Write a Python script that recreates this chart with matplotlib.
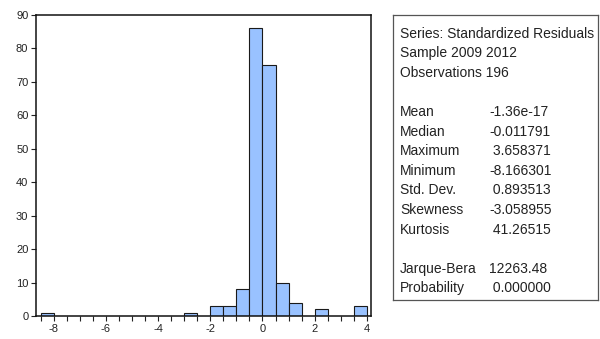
import numpy as np
import matplotlib.pyplot as plt

plt.rcParams['font.family'] = ['Liberation Sans', 'DejaVu Sans']

# histogram of standardized residuals, bins of width 0.5 from -8.5 to 4.0
bin_edges = np.arange(-8.5, 4.01, 0.5)
counts = [1, 0, 0, 0, 0, 0, 0, 0, 0, 0, 0, 1, 0,
          3, 3, 8, 86, 75, 10, 4, 0, 2, 0, 0, 3]

stat_labels = ["Mean", "Median", "Maximum", "Minimum", "Std. Dev.",
               "Skewness", "Kurtosis", "", "Jarque-Bera", "Probability"]
stat_values = ["-1.36e-17", "-0.011791", " 3.658371", "-8.166301", " 0.893513",
               "-3.058955", " 41.26515", "", "12263.48", " 0.000000"]
header = ["Series: Standardized Residuals", "Sample 2009 2012", "Observations 196", ""]

W, H = 600, 339
fig = plt.figure(figsize=(W / 100, H / 100), dpi=100)
ax = fig.add_axes([36 / W, (H - 316) / H, 335 / W, 301 / H])

left = bin_edges[:-1]
mask = np.array(counts) > 0
ax.bar(left[mask], np.array(counts)[mask], width=0.5, align='edge',
       color='#99C2FF', edgecolor='#1a1a1a', linewidth=0.8)

ax.set_xlim(-8.68, 4.16)
ax.set_ylim(0, 90)
ax.set_xticks(np.arange(-8, 4.1, 2))
ax.set_xticklabels([f"{int(v)}" for v in np.arange(-8, 4.1, 2)])
ax.set_xticks(bin_edges, minor=True)
ax.set_yticks(np.arange(0, 91, 10))
ax.tick_params(axis='both', which='both', direction='out', length=3.5, width=0.8,
               labelsize=8, pad=2, colors='#222222')
for s in ax.spines.values():
    s.set_linewidth(1.1)
    s.set_color('#111111')

# statistics box
box = fig.add_axes([393 / W, (H - 300) / H, 205 / W, 285 / H])
box.set_xticks([])
box.set_yticks([])
for s in box.spines.values():
    s.set_linewidth(0.9)
    s.set_color('#555555')

lines = [(h, "") for h in header] + list(zip(stat_labels, stat_values))
y0, step = 33.5, 19.6
for i, (lab, val) in enumerate(lines):
    y = 1 - (y0 + i * step) / H
    fig.text(400 / W, y, lab, fontsize=10, va='center', ha='left', color='#222222')
    if val:
        fig.text(489 / W, y, val, fontsize=10, va='center', ha='left', color='#222222')

fig.savefig("out.png", dpi=100)
